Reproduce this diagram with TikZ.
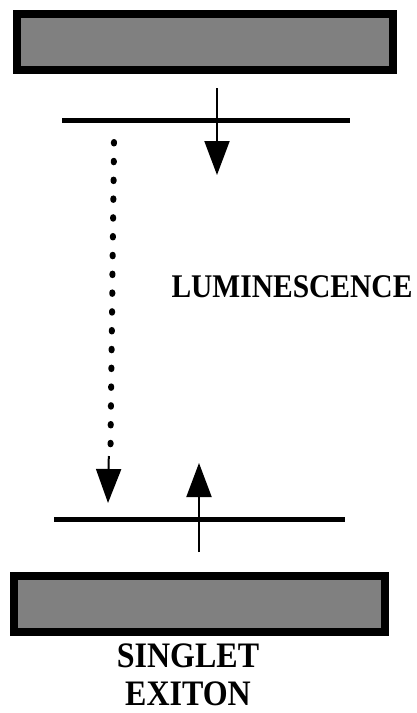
\documentclass[tikz,border=0pt]{standalone}
\usepackage{fontspec}
\setmainfont{Liberation Serif}
\usetikzlibrary{arrows.meta}
\definecolor{band}{RGB}{128,128,128}
\tikzset{
  bandbox/.style={draw=black, fill=band, line width=8pt},
  level/.style={line width=5pt},
  trans/.style={line width=2pt, -{Triangle[length=34pt,width=25pt]}},
  dots/.style={line width=6pt, line cap=round, dash pattern=on 1.5pt off 17.3pt},
  lbl/.style={font=\bfseries\fontsize{29.5}{32}\selectfont, inner sep=0pt, anchor=base},
  lblb/.style={font=\bfseries\fontsize{32}{36}\selectfont, inner sep=0pt, anchor=base}
}
\newcommand{\tallT}[1]{\scalebox{1}[1.12]{#1}}
\begin{document}
\begin{tikzpicture}[x=1pt,y=-1pt]
\useasboundingbox (0,0) rectangle (417,713);
% bands
\draw[bandbox] (17,14) rectangle (393,70);
\draw[bandbox] (14,576) rectangle (385,632);
% levels
\coordinate (u1) at (62,120);
\coordinate (u2) at (350,120);
\coordinate (l1) at (54,519);
\coordinate (l2) at (345,519);
\draw[level] (u1) -- (u2);
\draw[level] (l1) -- (l2);
% relaxation arrows
\coordinate (a1) at (217,88);
\coordinate (a2) at (217,175);
\draw[trans] (a1) -- (a2);
\coordinate (b1) at (199,552);
\coordinate (b2) at (199,463);
\draw[trans] (b1) -- (b2);
% luminescence
\coordinate (d1) at (114,142);
\coordinate (d2) at (110.5,446);
\draw[dots] (d1) -- (d2);
\coordinate (e1) at (108.8,456);
\coordinate (e2) at (108,503);
\draw[trans] (e1) -- (e2);
% labels
\node[lbl] (lum) at (292,297) {\tallT{LUMINESCENCE}};
\node[lblb] (sing) at (188,667) {\tallT{SINGLET}};
\node[lblb] (exit) at (188,705) {\tallT{EXITON}};
\end{tikzpicture}
\end{document}
